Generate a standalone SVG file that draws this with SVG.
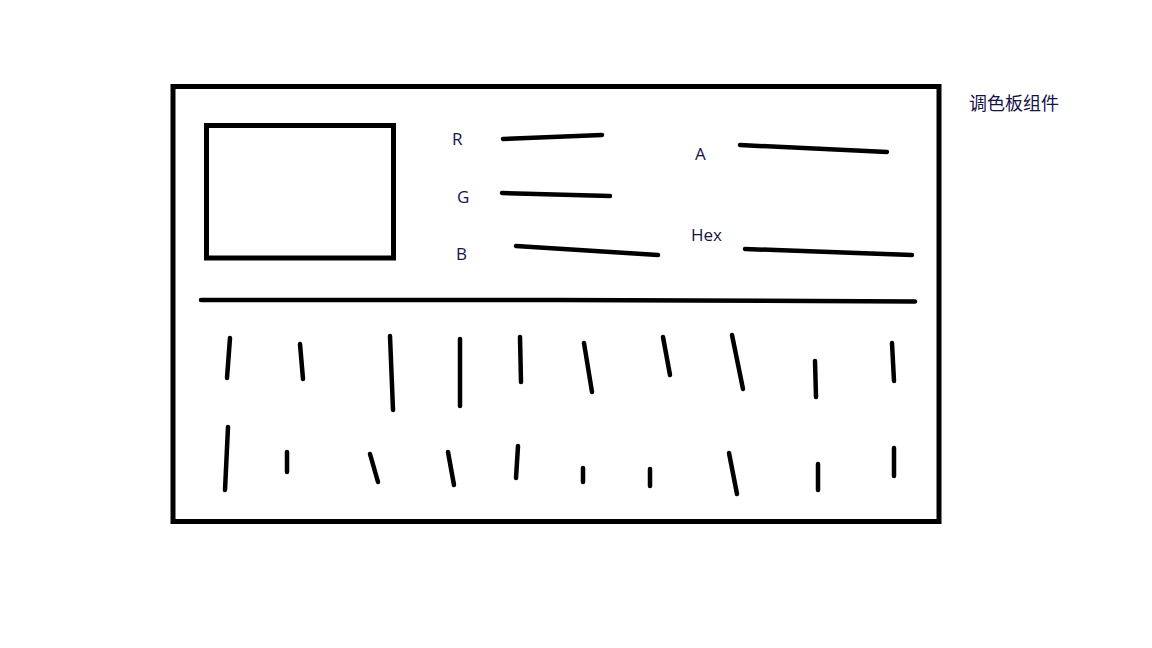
<svg xmlns="http://www.w3.org/2000/svg" width="1152" height="648" viewBox="0 0 1152 648">
<style>
.frame{fill:none;stroke:#000;stroke-width:5}
.s{stroke:#000;stroke-width:4.5;stroke-linecap:round;fill:none}
.lbl{font-family:"Open Sans","Noto Sans","Noto Sans CJK SC",sans-serif;font-size:17px;fill:#141448}
.cjk{font-family:"Noto Sans CJK SC","Noto Sans",sans-serif;font-size:18px;fill:#141448}
</style>
<rect width="1152" height="648" fill="#fff"/>
<g id="panel">
<rect class="frame" x="173" y="86.5" width="766" height="435"/>
</g>
<g id="preview">
<rect class="frame" x="206.5" y="125.5" width="187" height="132.5" stroke-width="4.5"/>
</g>
<g id="sliders">
<text class="lbl" x="452" y="145">R</text>
<path class="s" d="M503 139 L602 135"/>
<text class="lbl" x="457" y="203">G</text>
<path class="s" d="M502 193 L610 196"/>
<text class="lbl" x="456" y="260">B</text>
<path class="s" d="M516 246 L658 255"/>
<text class="lbl" x="695" y="160">A</text>
<path class="s" d="M740 145 L887 152"/>
<text class="lbl" x="691" y="241">Hex</text>
<path class="s" d="M745 249 L912 255"/>
</g>
<g id="separator">
<path class="s" d="M201 300 L558 300 L915 301.5" stroke-width="4"/>
</g>
<g id="swatches">
<path class="s" d="M230 338 L227 378"/>
<path class="s" d="M300 344 L303 379"/>
<path class="s" d="M390 336 L393 410"/>
<path class="s" d="M460 339 L460 406"/>
<path class="s" d="M520 337 L521 382"/>
<path class="s" d="M584 343 L592 392"/>
<path class="s" d="M663 337 L670 375"/>
<path class="s" d="M732 335 L743 389"/>
<path class="s" d="M815 361 L816 397"/>
<path class="s" d="M892 343 L894 381"/>
<path class="s" d="M228 427 L225 490"/>
<path class="s" d="M287 452 L287 472"/>
<path class="s" d="M370 454 L378 482"/>
<path class="s" d="M448 452 L454 485"/>
<path class="s" d="M518 446 L516 478"/>
<path class="s" d="M583 468 L583 482"/>
<path class="s" d="M650 469 L650 486"/>
<path class="s" d="M729 453 L737 494"/>
<path class="s" d="M818 464 L818 490"/>
<path class="s" d="M894 448 L894 476"/>
</g>
<g id="title">
<text class="cjk" x="969" y="110">调色板组件</text>
</g>
</svg>
